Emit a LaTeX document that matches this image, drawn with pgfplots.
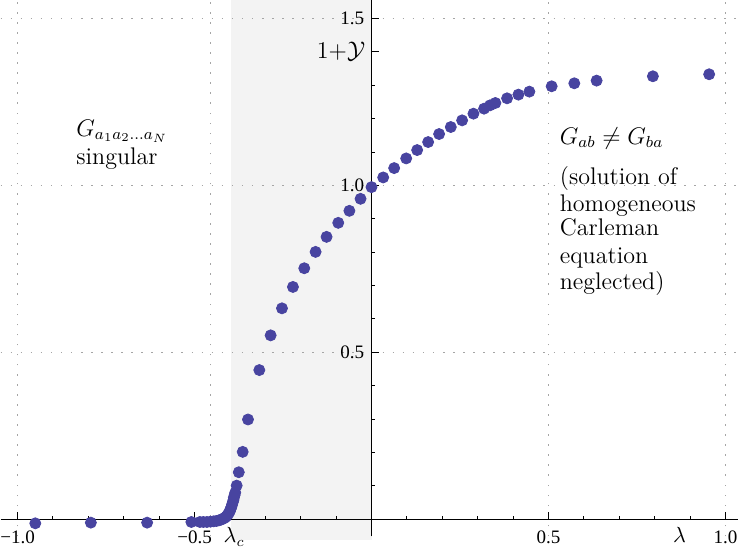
\documentclass[border=0pt]{standalone}
\usepackage{fontspec}
\newfontfamily\timesf{Liberation Serif}
\usepackage{pgfplots}
\pgfplotsset{compat=1.18}
\definecolor{ptcol}{RGB}{72,68,160}
\definecolor{shadec}{RGB}{243,243,243}
\definecolor{gridc}{RGB}{165,165,165}
\begin{document}
\begin{tikzpicture}
\begin{axis}[
  set layers,
  scale only axis, width=366.5bp, height=266.5bp,
  xmin=-1.0483, xmax=1.0341, ymin=-0.0512, ymax=1.554,
  axis lines=middle,
  axis line style={black, line width=0.5pt, -},
  xtick={-1,-0.5,0.5,1},
  xticklabels={{−1.0},{−0.5},{0.5},{1.0}},
  minor xtick={-0.9,-0.8,-0.7,-0.6,-0.4,-0.3,-0.2,-0.1,0.1,0.2,0.3,0.4,0.6,0.7,0.8,0.9},
  ytick={0.5,1,1.5},
  yticklabels={0.5,1.0,1.5},
  minor ytick={0.1,0.2,0.3,0.4,0.6,0.7,0.8,0.9,1.1,1.2,1.3},
  extra y ticks={1.4},
  extra y tick labels={$1{+}\mathcal{Y}$},
  extra y tick style={yticklabel style={font=\fontsize{11.5}{13}\selectfont, xshift=0.5bp}},
  extra x ticks={-0.388,0.87},
  extra x tick labels={$\lambda_c$,$\lambda$},
  extra x tick style={major tick length=0pt, xticklabel style={font=\fontsize{10.5}{12}\selectfont, yshift=1.5bp}},
  tick align=inside,
  major tick length=3.5bp, minor tick length=1.75bp,
  tick style={black, line width=0.5pt},
  xticklabel style={font=\timesf\fontsize{9.5}{10}\selectfont, anchor=north, inner sep=0pt, yshift=-5.5bp},
  yticklabel style={font=\timesf\fontsize{9.5}{10}\selectfont, anchor=east, inner sep=0pt, xshift=-3.5bp},
  clip=false,
]
\begin{pgfonlayer}{axis background}
\fill[shadec] (axis cs:-0.398,-0.062) rectangle (axis cs:0,1.554);
\end{pgfonlayer}
\begin{pgfonlayer}{axis grid}
\foreach \gx in {-1,-0.4545,0.5,1}{
  \edef\tmp{\noexpand\draw[gridc, line width=0.5pt, dash pattern=on 0.8bp off 4.2bp] (axis cs:\gx,-0.0512) -- (axis cs:\gx,1.554);}\tmp
}
\foreach \gy in {0.5,1,1.5}{
  \edef\tmp{\noexpand\draw[gridc, line width=0.5pt, dash pattern=on 0.8bp off 4.2bp] (axis cs:-1.0483,\gy) -- (axis cs:1.0341,\gy);}\tmp
}
\end{pgfonlayer}
\addplot[only marks, mark=*, mark size=2.75bp, color=ptcol] coordinates {
(-0.950,-0.012) (-0.793,-0.010) (-0.634,-0.010) (-0.509,-0.008)
(-0.485,-0.008) (-0.475,-0.008) (-0.465,-0.008) (-0.455,-0.007)
(-0.446,-0.006) (-0.438,-0.005) (-0.431,-0.003) (-0.425,-0.001)
(-0.419,0.002) (-0.414,0.005) (-0.410,0.009) (-0.406,0.014)
(-0.403,0.019) (-0.400,0.025) (-0.398,0.031) (-0.396,0.037)
(-0.394,0.044) (-0.392,0.051) (-0.390,0.058) (-0.389,0.065)
(-0.387,0.072) (-0.385,0.080)
(-0.381,0.101) (-0.375,0.141) (-0.364,0.202) (-0.349,0.299)
(-0.317,0.447) (-0.285,0.551) (-0.253,0.632) (-0.222,0.696)
(-0.190,0.752) (-0.158,0.801) (-0.127,0.846) (-0.094,0.888)
(-0.0625,0.924) (-0.031,0.960) (0.000,0.995)
(0.033,1.024) (0.064,1.052) (0.098,1.081) (0.129,1.106)
(0.160,1.130) (0.191,1.154) (0.224,1.175) (0.256,1.195)
(0.288,1.215) (0.318,1.230) (0.335,1.240) (0.350,1.247)
(0.383,1.261) (0.415,1.272) (0.446,1.281) (0.509,1.297)
(0.573,1.306) (0.636,1.314) (0.795,1.327) (0.954,1.333)
};
\node[anchor=base west, inner sep=0pt, font=\large] at (axis cs:-0.835,1.148) {$G_{a_1a_2\ldots a_N}$};
\node[anchor=base west, inner sep=0pt, font=\large] at (axis cs:-0.835,1.063) {singular};
\node[anchor=base west, inner sep=0pt, font=\large] at (axis cs:0.531,1.123) {$G_{ab}\neq G_{ba}$};
\node[anchor=base west, inner sep=0pt, font=\large] at (axis cs:0.531,1.003) {(solution of};
\node[anchor=base west, inner sep=0pt, font=\large] at (axis cs:0.531,0.922) {homogeneous};
\node[anchor=base west, inner sep=0pt, font=\large] at (axis cs:0.531,0.849) {Carleman};
\node[anchor=base west, inner sep=0pt, font=\large] at (axis cs:0.531,0.765) {equation};
\node[anchor=base west, inner sep=0pt, font=\large] at (axis cs:0.531,0.687) {neglected)};
\end{axis}
\end{tikzpicture}
\end{document}
